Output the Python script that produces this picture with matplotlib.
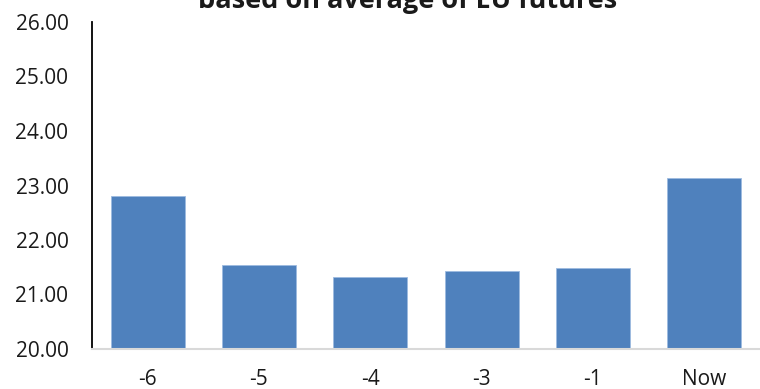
import matplotlib
matplotlib.use("Agg")
import matplotlib.pyplot as plt

categories = ["-6", "-5", "-4", "-3", "-1", "Now"]
values = [22.80, 21.55, 21.32, 21.44, 21.48, 23.14]
yticks = [20, 21, 22, 23, 24, 25, 26]
title = "based on average of EU futures"

plt.rcParams['font.family'] = ['Open Sans', 'DejaVu Sans']

fig = plt.figure(figsize=(7.6, 3.89), dpi=100)
ax = fig.add_axes([92/760, 1-349/389, 1-92/760, (349-22)/389])

x = range(len(categories))
ax.bar(x, values, width=0.667, bottom=0, color="#4F81BD", edgecolor="#9dbbe0", linewidth=0.6, zorder=2)
ax.set_ylim(20, 26)
ax.set_xlim(-0.5, len(categories) - 0.5)
ax.set_yticks(yticks)
ax.set_yticklabels([f"{v:.2f}" for v in yticks])
ax.set_xticks(list(x))
ax.set_xticklabels(categories)
ax.tick_params(axis='y', length=0, pad=17, labelsize=15, colors="#1a1a1a")
ax.tick_params(axis='x', length=0, pad=14.5, labelsize=15, colors="#1a1a1a")
for s in ["top", "right"]:
    ax.spines[s].set_visible(False)
ax.spines["left"].set_color("black")
ax.spines["left"].set_linewidth(1.3)
ax.spines["bottom"].set_color("#d9d9d9")
ax.spines["bottom"].set_linewidth(1.5)

fig.text(408/760, 1 - 1/389, title, ha="center", va="center", fontsize=19.5, fontweight="bold", color="#1a1a1a")

fig.savefig("out.png", dpi=100)
